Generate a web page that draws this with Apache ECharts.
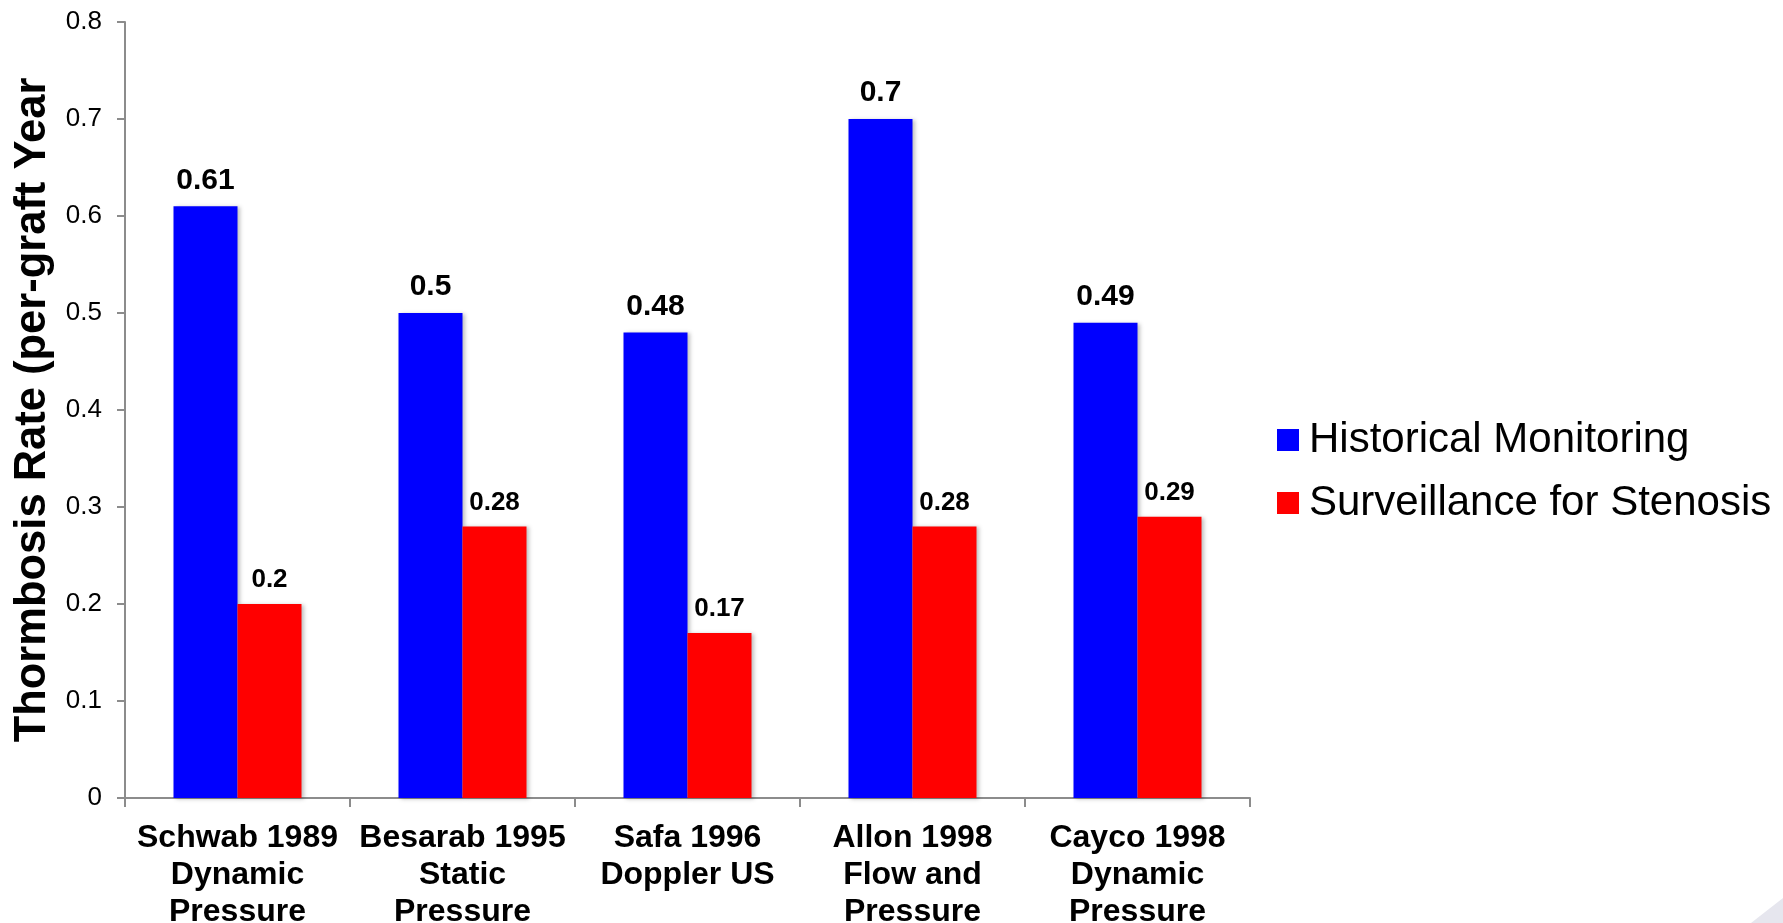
<!DOCTYPE html>
<html>
<head>
<meta charset="utf-8">
<script src="https://cdn.jsdelivr.net/npm/echarts@6/dist/echarts.min.js"></script>
<style>
  html, body { margin: 0; padding: 0; background: #ffffff; }
  #chart { width: 1783px; height: 923px; }
</style>
</head>
<body>
<div id="chart"></div>
<script>
// Graft thrombosis rate by study: historical monitoring vs surveillance for stenosis
const categories = [
  'Schwab 1989\nDynamic\nPressure',
  'Besarab 1995\nStatic\nPressure',
  'Safa 1996\nDoppler US',
  'Allon 1998\nFlow and\nPressure',
  'Cayco 1998\nDynamic\nPressure'
];
const historicalMonitoring = [0.61, 0.5, 0.48, 0.7, 0.49];
const surveillanceStenosis = [0.2, 0.28, 0.17, 0.28, 0.29];
const seriesNames = ['Historical Monitoring', 'Surveillance for Stenosis'];
const yTicks = { min: 0, max: 0.8, interval: 0.1 };

const FONT = '"Liberation Sans", Arial, sans-serif';
const axisGray = '#8c8c8c';
const barShadow = {
  shadowColor: 'rgba(0,0,0,0.25)',
  shadowBlur: 4,
  shadowOffsetX: 2,
  shadowOffsetY: 1
};

const chart = echarts.init(document.getElementById('chart'), null, { renderer: 'canvas' });

chart.setOption({
  backgroundColor: '#ffffff',
  animation: false,
  textStyle: { fontFamily: FONT },
  grid: {
    left: 125, right: 533, top: 22, bottom: 125,
    containLabel: false,
    outerBoundsMode: 'none'
  },
  legend: {
    orient: 'vertical',
    left: 1277,
    top: 419,
    padding: 0,
    itemWidth: 22,
    itemHeight: 22,
    itemGap: 21,
    icon: 'rect',
    data: seriesNames,
    textStyle: {
      fontFamily: FONT,
      fontSize: 42,
      lineHeight: 42,
      color: '#000000',
      padding: [0, 0, 0, 5]
    }
  },
  xAxis: {
    type: 'category',
    data: categories,
    boundaryGap: true,
    axisLine: { show: true, lineStyle: { color: axisGray, width: 2 } },
    axisTick: { show: true, length: 9, interval: 0, lineStyle: { color: axisGray, width: 2 } },
    axisLabel: {
      interval: 0,
      margin: 22,
      fontFamily: FONT,
      fontSize: 32,
      lineHeight: 37,
      fontWeight: 'bold',
      color: '#000000'
    },
    splitLine: { show: false }
  },
  yAxis: {
    type: 'value',
    min: yTicks.min,
    max: yTicks.max,
    interval: yTicks.interval,
    name: 'Thormbosis Rate (per-graft Year',
    nameLocation: 'middle',
    nameGap: 67,
    nameRotate: 90,
    nameTextStyle: {
      fontFamily: FONT,
      fontSize: 43.5,
      fontWeight: 'bold',
      color: '#000000'
    },
    axisLine: { show: true, lineStyle: { color: axisGray, width: 2 } },
    axisTick: { show: true, length: 8, lineStyle: { color: axisGray, width: 2 } },
    axisLabel: {
      margin: 23,
      fontFamily: FONT,
      fontSize: 26,
      color: '#000000',
      formatter: v => (v === 0 ? '0' : String(Math.round(v * 10) / 10))
    },
    splitLine: { show: false }
  },
  series: [
    {
      name: seriesNames[0],
      type: 'bar',
      data: historicalMonitoring,
      barWidth: 64,
      barGap: '0%',
      itemStyle: Object.assign({ color: '#0000ff' }, barShadow),
      label: {
        show: true,
        position: 'top',
        distance: 11,
        fontFamily: FONT,
        fontSize: 30,
        fontWeight: 'bold',
        color: '#000000'
      }
    },
    {
      name: seriesNames[1],
      type: 'bar',
      data: surveillanceStenosis,
      barWidth: 64,
      barGap: '0%',
      itemStyle: Object.assign({ color: '#ff0000' }, barShadow),
      label: {
        show: true,
        position: 'top',
        distance: 11,
        fontFamily: FONT,
        fontSize: 26,
        fontWeight: 'bold',
        color: '#000000'
      }
    }
  ],
  graphic: [
    {
      type: 'polygon',
      silent: true,
      z: -1,
      shape: { points: [[1751, 923], [1783, 898], [1783, 923]] },
      style: { fill: '#e6e6ee' }
    }
  ]
});
</script>
</body>
</html>
